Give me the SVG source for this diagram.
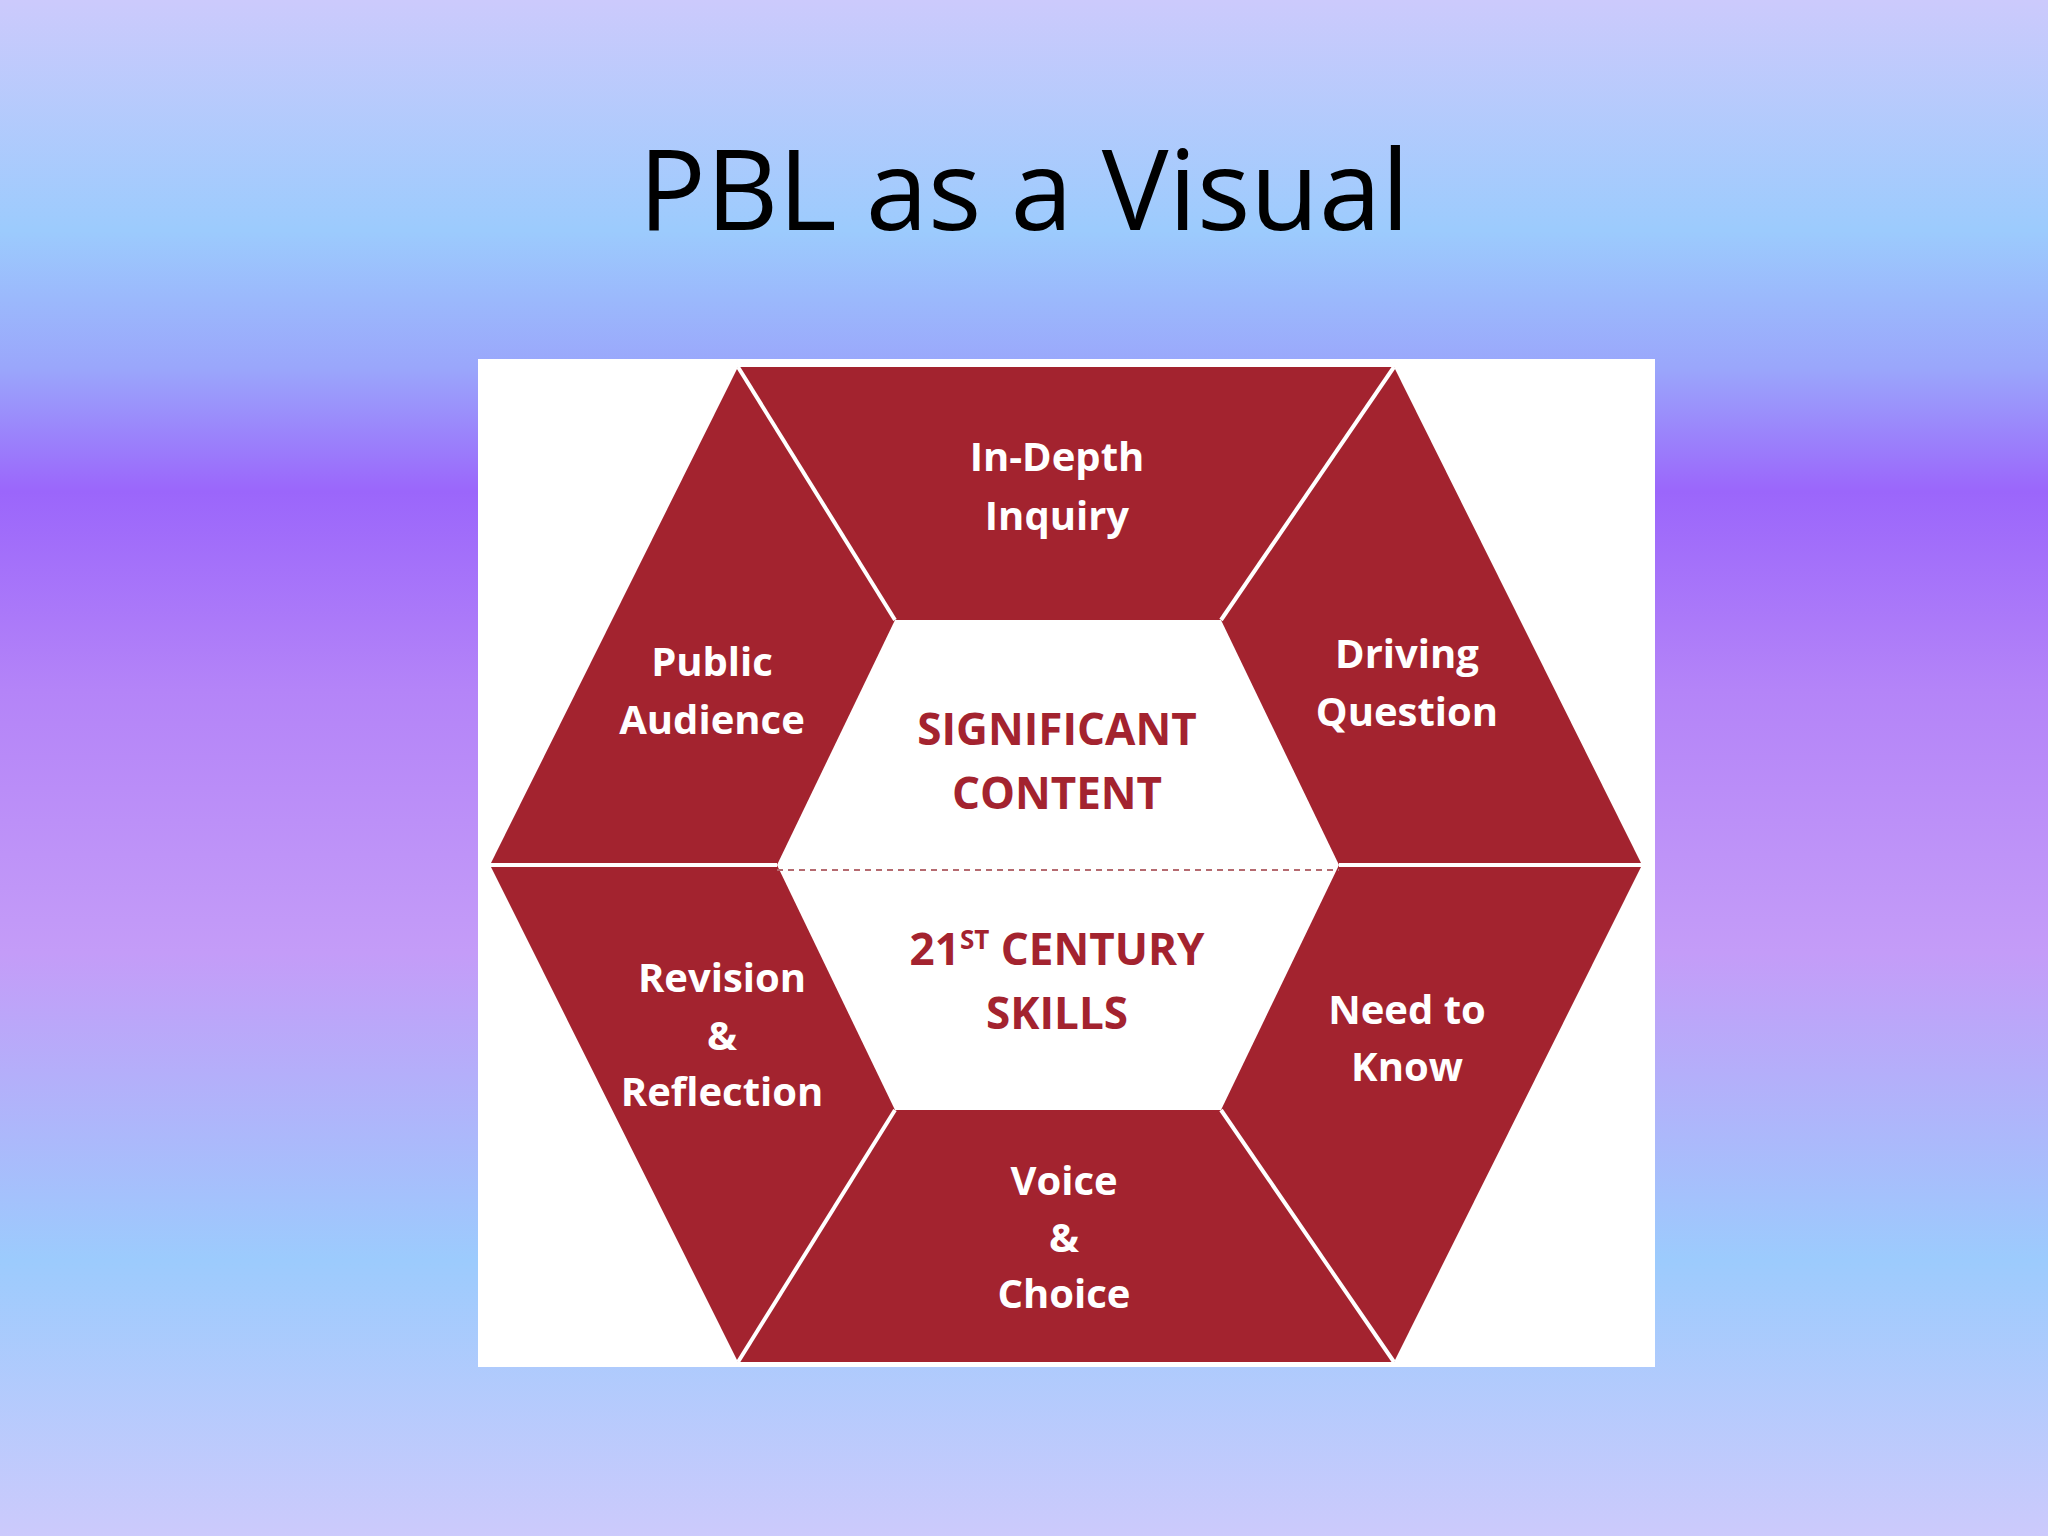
<svg xmlns="http://www.w3.org/2000/svg" width="2048" height="1536" viewBox="0 0 2048 1536">
<defs>
<linearGradient id="bg" x1="0" y1="0" x2="0" y2="1">
<stop offset="0" stop-color="#cccafc"/>
<stop offset="0.15" stop-color="#9ccbfd"/>
<stop offset="0.24" stop-color="#9aa6fb"/>
<stop offset="0.32" stop-color="#9b66fb"/>
<stop offset="0.45" stop-color="#b484f8"/>
<stop offset="0.62" stop-color="#c49cf8"/>
<stop offset="0.82" stop-color="#9ccbfd"/>
<stop offset="1" stop-color="#cccafc"/>
</linearGradient>
<style>
.lbl{font-family:"Open Sans","Liberation Sans",sans-serif;font-weight:bold;font-size:40px;fill:#fff;text-anchor:middle}
.ctr{font-family:"Open Sans","Liberation Sans",sans-serif;font-weight:bold;font-size:44px;fill:#a3232f;text-anchor:middle}
.sep{stroke:#fff;stroke-width:4;fill:none}
</style>
</defs>
<rect width="2048" height="1536" fill="url(#bg)"/>
<text x="1024" y="230" font-family="'Open Sans','Liberation Sans',sans-serif" font-size="112" text-anchor="middle" fill="#000">PBL as a Visual</text>
<rect x="478" y="359" width="1177" height="1008" fill="#fff"/>
<g id="hexagon">
<polygon points="490,865 738,367 1394,367 1642,865 1394,1362 738,1362" fill="#a3232f"/>
<polygon points="777,865 895,620 1221,620 1339,865 1221,1110 895,1110" fill="#fff"/>
</g>
<g id="connectors">
<line class="sep" x1="738" y1="367" x2="895" y2="620"/>
<line class="sep" x1="1394" y1="367" x2="1221" y2="620"/>
<line class="sep" x1="490" y1="865" x2="777" y2="865"/>
<line class="sep" x1="1339" y1="865" x2="1642" y2="865"/>
<line class="sep" x1="738" y1="1362" x2="895" y2="1110"/>
<line class="sep" x1="1394" y1="1362" x2="1221" y2="1110"/>
<line x1="777" y1="870" x2="1339" y2="870" stroke="#b56a70" stroke-width="2" stroke-dasharray="6,5"/>
</g>
<g id="in-depth"><text class="lbl" x="1057" y="471">In-Depth</text><text class="lbl" x="1057" y="530">Inquiry</text></g>
<g id="public"><text class="lbl" x="712" y="676">Public</text><text class="lbl" x="712" y="734">Audience</text></g>
<g id="driving"><text class="lbl" x="1407" y="668">Driving</text><text class="lbl" x="1407" y="726">Question</text></g>
<g id="significant"><text class="ctr" x="1057" y="745">SIGNIFICANT</text><text class="ctr" x="1057" y="809">CONTENT</text></g>
<g id="skills"><text class="ctr" x="1057" y="965">21<tspan font-size="26" dy="-16">ST</tspan><tspan dy="16"> CENTURY</tspan></text><text class="ctr" x="1057" y="1029">SKILLS</text></g>
<g id="revision"><text class="lbl" x="722" y="992">Revision</text><text class="lbl" x="722" y="1050">&amp;</text><text class="lbl" x="722" y="1106">Reflection</text></g>
<g id="need"><text class="lbl" x="1407" y="1024">Need to</text><text class="lbl" x="1407" y="1081">Know</text></g>
<g id="voice"><text class="lbl" x="1064" y="1195">Voice</text><text class="lbl" x="1064" y="1252">&amp;</text><text class="lbl" x="1064" y="1308">Choice</text></g>
</svg>
